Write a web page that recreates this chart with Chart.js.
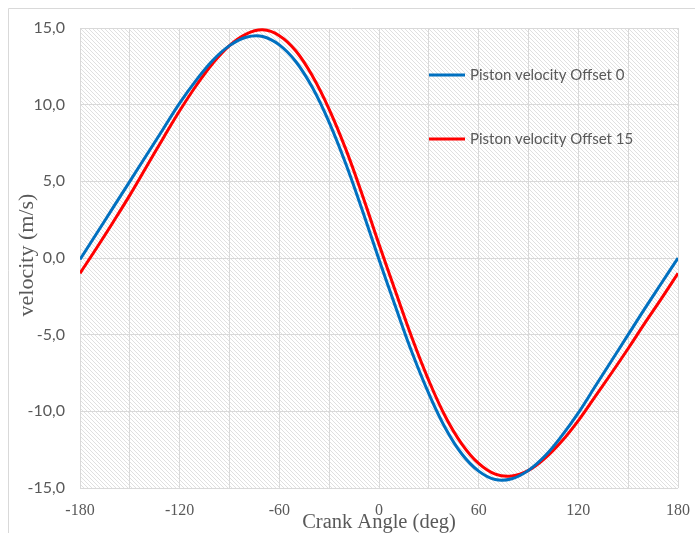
<!DOCTYPE html>
<html>
<head>
<meta charset="utf-8">
<script src="https://cdn.jsdelivr.net/npm/chart.js@4/dist/chart.umd.min.js"></script>
<style>
  html, body { margin: 0; padding: 0; background: #ffffff; }
  canvas { display: block; }
</style>
</head>
<body>
<canvas id="chart" width="695" height="533"></canvas>
<script>
// Crank angle in degrees, one sample every 10 degrees
const crankAngles = [
  -180, -170, -160, -150, -140, -130, -120, -110, -100, -90,
  -80, -70, -60, -50, -40, -30, -20, -10, 0,
  10, 20, 30, 40, 50, 60, 70, 80, 90,
  100, 110, 120, 130, 140, 150, 160, 170, 180
];

// Piston velocity (m/s), no pin offset
const velocityOffset0 = [
  -0.1, 1.6, 3.3, 5.0, 6.7, 8.4, 10.1, 11.6, 12.9, 13.85,
  14.4, 14.45, 13.9, 12.8, 11.1, 8.85, 6.15, 3.1, -0.1,
  -3.2, -6.2, -8.85, -11.1, -12.8, -13.9, -14.45, -14.4, -13.85,
  -12.9, -11.6, -10.1, -8.4, -6.7, -5.0, -3.3, -1.65, 0.0
];

// Piston velocity (m/s), 15 mm pin offset
const velocityOffset15 = [
  -1.0, 0.65, 2.35, 4.1, 5.95, 7.8, 9.6, 11.25, 12.7, 13.85,
  14.6, 14.88, 14.5, 13.5, 11.85, 9.7, 7.1, 4.1, 0.9,
  -2.2, -5.25, -8.0, -10.35, -12.15, -13.4, -14.1, -14.22, -13.85,
  -13.05, -11.95, -10.6, -9.05, -7.5, -5.9, -4.25, -2.65, -1.0
];

const seriesLabels = ['Piston velocity Offset 0', 'Piston velocity Offset 15'];
const seriesColors = ['#0070C0', '#FF0000'];
const xLabelValues = [-180, -120, -60, 0, 60, 120, 180];
const yLabelValues = [-15, -10, -5, 0, 5, 10, 15];
const xAxisTitle = 'Crank Angle (deg)';
const yAxisTitle = 'velocity (m/s)';

const GREY_TEXT = '#595959';
const SANS = 'Lato, "Open Sans", sans-serif';
const SERIF = '"Liberation Serif", "DejaVu Serif", serif';

function toPoints(values) {
  return crankAngles.map((a, i) => ({ x: a, y: values[i] }));
}

// Fine diagonal hatch used as plot-area fill
function makeHatch(ctx) {
  const c = document.createElement('canvas');
  c.width = 4; c.height = 4;
  const g = c.getContext('2d');
  g.fillStyle = '#ffffff';
  g.fillRect(0, 0, 4, 4);
  g.fillStyle = '#e0e0e0';
  for (let i = 0; i < 4; i++) g.fillRect(i, i, 1, 1);
  return ctx.createPattern(c, 'repeat');
}

const decorations = {
  id: 'decorations',
  beforeDraw(chart) {
    const { ctx, chartArea: a } = chart;
    ctx.save();
    // outer frame
    ctx.strokeStyle = '#d9d9d9';
    ctx.lineWidth = 1;
    ctx.beginPath();
    ctx.moveTo(8.5, chart.height);
    ctx.lineTo(8.5, 8.5);
    ctx.lineTo(chart.width, 8.5);
    ctx.stroke();
    // hatched plot background
    ctx.fillStyle = makeHatch(ctx);
    ctx.fillRect(a.left, a.top, a.right - a.left, a.bottom - a.top);
    ctx.restore();
  },
  afterDraw(chart) {
    const { ctx } = chart;
    ctx.save();
    // axis titles
    ctx.fillStyle = GREY_TEXT;
    ctx.textAlign = 'center';
    ctx.textBaseline = 'middle';
    ctx.font = '20.5px ' + SERIF;
    ctx.fillText(xAxisTitle, 379, 523);
    ctx.font = '22px ' + SERIF;
    ctx.translate(27, 255);
    ctx.rotate(-Math.PI / 2);
    ctx.fillText(yAxisTitle, 0, 0);
    ctx.restore();

    // legend inside the plot, upper right
    ctx.save();
    const rows = [75, 139];
    chart.data.datasets.forEach((ds, i) => {
      const y = rows[i];
      ctx.strokeStyle = ds.borderColor;
      ctx.lineWidth = 3;
      ctx.beginPath();
      ctx.moveTo(429, y);
      ctx.lineTo(465, y);
      ctx.stroke();
      ctx.fillStyle = GREY_TEXT;
      ctx.font = '15px ' + SANS;
      ctx.textAlign = 'left';
      ctx.textBaseline = 'middle';
      ctx.fillText(ds.label, 470, y);
    });
    ctx.restore();
  }
};

new Chart(document.getElementById('chart'), {
  type: 'line',
  data: {
    datasets: [
      { label: seriesLabels[0], data: toPoints(velocityOffset0), borderColor: seriesColors[0] },
      { label: seriesLabels[1], data: toPoints(velocityOffset15), borderColor: seriesColors[1] }
    ]
  },
  options: {
    responsive: false,
    animation: false,
    events: [],
    layout: { padding: { left: 0, top: 28, right: 17, bottom: 0 } },
    elements: {
      line: { borderWidth: 3, tension: 0.4, fill: false },
      point: { radius: 0 }
    },
    plugins: { legend: { display: false }, tooltip: { enabled: false } },
    scales: {
      x: {
        type: 'linear',
        min: -180, max: 180,
        afterFit(scale) {
          scale.height = 45;
          scale.paddingLeft = 0;
          scale.paddingRight = 0;
        },
        border: { display: false },
        grid: { color: '#d9d9d9', lineWidth: 1, drawTicks: false },
        ticks: {
          stepSize: 30,
          padding: 13,
          color: GREY_TEXT,
          font: { family: SERIF, size: 16 },
          maxRotation: 0,
          autoSkip: false,
          callback: v => xLabelValues.includes(v) ? String(v) : ''
        }
      },
      y: {
        min: -15, max: 15,
        afterFit(scale) {
          scale.width = 80;
          scale.paddingTop = 0;
          scale.paddingBottom = 0;
        },
        border: { display: false },
        grid: { color: '#d9d9d9', lineWidth: 1, drawTicks: false },
        ticks: {
          stepSize: 5,
          padding: 15,
          color: GREY_TEXT,
          font: { family: SANS, size: 16 },
          callback: v => yLabelValues.includes(v) ? v.toFixed(1).replace('.', ',') : ''
        }
      }
    }
  },
  plugins: [decorations]
});
</script>
</body>
</html>
